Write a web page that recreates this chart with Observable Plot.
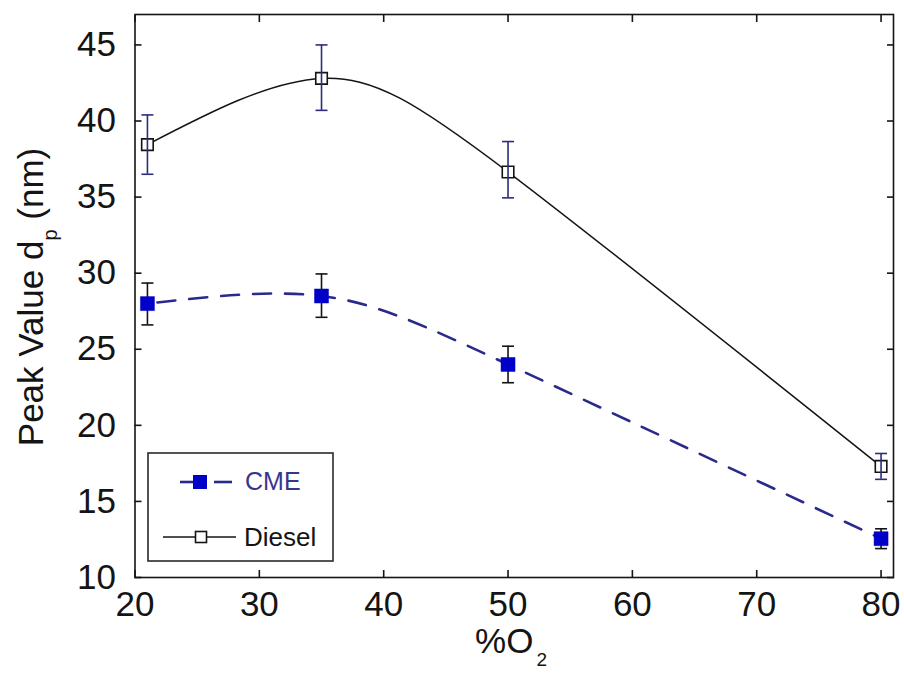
<!DOCTYPE html>
<html>
<head>
<meta charset="utf-8">
<script src="https://cdn.jsdelivr.net/npm/d3@7"></script>
<script src="https://cdn.jsdelivr.net/npm/@observablehq/plot@0.6"></script>
<style>
  html, body { margin: 0; padding: 0; background: #fff; }
  #chart { position: relative; width: 904px; height: 673px; }
  svg { font-family: "Liberation Sans", Arial, sans-serif; }
</style>
</head>
<body>
<div id="chart"></div>
<script>
// ---- data ----
const o2 = [21, 35, 50, 80];
const cme = [28.0, 28.5, 24.0, 12.55];
const cmeLo = [26.6, 27.1, 22.8, 11.9];
const cmeHi = [29.35, 29.95, 25.2, 13.2];
const diesel = [38.45, 42.8, 36.65, 17.3];
const dieselLo = [36.5, 40.7, 34.95, 16.45];
const dieselHi = [40.4, 45.0, 38.65, 18.15];
const seriesNames = ["CME", "Diesel"];
const xTicks = [20, 30, 40, 50, 60, 70, 80];
const yTicks = [10, 15, 20, 25, 30, 35, 40, 45];

const cmeRows = o2.map((x, i) => ({x, y: cme[i], lo: cmeLo[i], hi: cmeHi[i]}));
const dieselRows = o2.map((x, i) => ({x, y: diesel[i], lo: dieselLo[i], hi: dieselHi[i]}));

const cmeLine = "#2a2a8c";
const cmeFill = "#0000c8";
const cmeText = "#36368f";
const dieselErr = "#2c2c7e";
const ink = "#141414";

// horizontal cap symbol for error bars (half width = r)
const capSymbol = {
  draw(ctx, size) {
    const w = Math.sqrt(size / Math.PI);
    ctx.moveTo(-w, 0);
    ctx.lineTo(w, 0);
  }
};

const tickOpts = {tickFormat: () => "", label: null, tickSize: 7, strokeWidth: 1.6, stroke: ink};

const chart = Plot.plot({
  width: 904,
  height: 673,
  marginLeft: 134.5,
  marginRight: 11,
  marginTop: 14,
  marginBottom: 96,
  x: {domain: [20, 81]},
  y: {domain: [10, 47]},
  style: {fontFamily: "Liberation Sans, Arial, sans-serif", fontSize: "35px", color: ink, background: "#fff"},
  marks: [
    // tick labels
    Plot.axisX({ticks: xTicks, tickSize: 0, tickPadding: 14, label: null, fontSize: 35, fill: ink}),
    Plot.axisY({ticks: yTicks, tickSize: 0, tickPadding: 19, label: null, fontSize: 35, fill: ink}),
    // inward ticks on all four sides
    Plot.axisX({...tickOpts, anchor: "bottom", ticks: xTicks, dy: -7}),
    Plot.axisX({...tickOpts, anchor: "top", ticks: xTicks, dy: 7}),
    Plot.axisY({...tickOpts, anchor: "left", ticks: yTicks, dx: 7}),
    Plot.axisY({...tickOpts, anchor: "right", ticks: yTicks, dx: -7}),
    Plot.frame({stroke: ink, strokeWidth: 1.6}),
    // smoothed curves
    Plot.line(dieselRows, {x: "x", y: "y", curve: "natural", stroke: ink, strokeWidth: 1.5}),
    Plot.line(cmeRows, {x: "x", y: "y", curve: "natural", stroke: cmeLine, strokeWidth: 2.6, strokeDasharray: "18,14", strokeDashoffset: -10}),
    // diesel markers (open squares)
    Plot.dot(dieselRows, {x: "x", y: "y", symbol: "square", r: 6.5, fill: "#fff", stroke: ink, strokeWidth: 1.6}),
    // error bars
    Plot.ruleX(dieselRows, {x: "x", y1: "lo", y2: "hi", stroke: dieselErr, strokeWidth: 1.6}),
    Plot.dot(dieselRows, {x: "x", y: "lo", symbol: capSymbol, r: 6, stroke: dieselErr, strokeWidth: 1.6}),
    Plot.dot(dieselRows, {x: "x", y: "hi", symbol: capSymbol, r: 6, stroke: dieselErr, strokeWidth: 1.6}),
    Plot.ruleX(cmeRows, {x: "x", y1: "lo", y2: "hi", stroke: ink, strokeWidth: 1.6}),
    Plot.dot(cmeRows, {x: "x", y: "lo", symbol: capSymbol, r: 6, stroke: ink, strokeWidth: 1.6}),
    Plot.dot(cmeRows, {x: "x", y: "hi", symbol: capSymbol, r: 6, stroke: ink, strokeWidth: 1.6}),
    // CME markers (filled squares)
    Plot.dot(cmeRows, {x: "x", y: "y", symbol: "square", r: 7.9, fill: cmeFill, stroke: cmeFill, strokeWidth: 0.5})
  ]
});

document.getElementById("chart").appendChild(chart);
const svg = d3.select(chart);

// axis titles with subscripts
const yl = svg.append("text")
  .attr("transform", "translate(43,297) rotate(-90)")
  .attr("text-anchor", "middle")
  .attr("font-size", 35)
  .attr("fill", ink);
yl.append("tspan").text("Peak Value d");
yl.append("tspan").attr("font-size", 20).attr("dy", 14).text("p");
yl.append("tspan").attr("dy", -14).text(" (nm)");

const xl = svg.append("text")
  .attr("x", 511).attr("y", 653)
  .attr("text-anchor", "middle")
  .attr("font-size", 35)
  .attr("fill", ink);
xl.append("tspan").text("%O");
xl.append("tspan").attr("font-size", 19).attr("dy", 13).attr("dx", 3).text("2");

// legend box inside the frame
const lg = svg.append("g").attr("text-anchor", "start");
lg.append("rect").attr("x", 148).attr("y", 453).attr("width", 185).attr("height", 108)
  .attr("fill", "#fff").attr("stroke", "#2a2a2a").attr("stroke-width", 1.6);
// CME entry
lg.append("line").attr("x1", 180).attr("x2", 193).attr("y1", 482).attr("y2", 482)
  .attr("stroke", cmeLine).attr("stroke-width", 2.6);
lg.append("line").attr("x1", 214).attr("x2", 232).attr("y1", 482).attr("y2", 482)
  .attr("stroke", cmeLine).attr("stroke-width", 2.6);
lg.append("rect").attr("x", 193).attr("y", 475).attr("width", 14).attr("height", 14).attr("fill", cmeFill);
lg.append("text").attr("x", 245).attr("y", 490).attr("text-anchor", "start")
  .attr("font-size", 25).attr("fill", cmeText).text(seriesNames[0]);
// Diesel entry
lg.append("line").attr("x1", 163).attr("x2", 236).attr("y1", 537).attr("y2", 537)
  .attr("stroke", ink).attr("stroke-width", 1.5);
lg.append("rect").attr("x", 195.5).attr("y", 531.5).attr("width", 11).attr("height", 11)
  .attr("fill", "#fff").attr("stroke", ink).attr("stroke-width", 1.6);
lg.append("text").attr("x", 244).attr("y", 546).attr("text-anchor", "start")
  .attr("font-size", 26).attr("fill", ink).text(seriesNames[1]);
</script>
</body>
</html>
